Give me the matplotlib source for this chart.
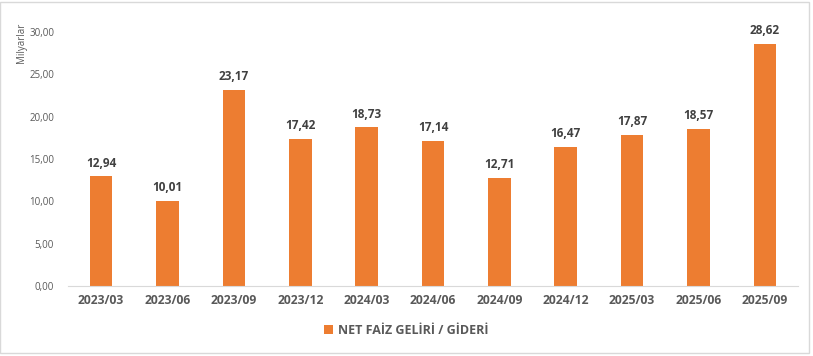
import matplotlib
matplotlib.use("Agg")
import matplotlib.pyplot as plt
from matplotlib.patches import Rectangle

# Datos
donemler = ["2023/03", "2023/06", "2023/09", "2023/12", "2024/03", "2024/06",
            "2024/09", "2024/12", "2025/03", "2025/06", "2025/09"]
net_faiz = [12.94, 10.01, 23.17, 17.42, 18.73, 17.14, 12.71, 16.47, 17.87, 18.57, 28.62]
y_ticks = [0, 5, 10, 15, 20, 25, 30]

turuncu = "#ED7D31"
gri = "#595959"

plt.rcParams['font.family'] = ['Open Sans', 'DejaVu Sans']

fig = plt.figure(figsize=(8.13, 3.56), dpi=100)
ax = fig.add_axes([0.0836, 0.1966, 0.898, 0.7134])

x = list(range(len(donemler)))
ax.bar(x, net_faiz, width=0.34, color=turuncu, label="NET FAİZ GELİRİ / GİDERİ")

for xi, v in zip(x, net_faiz):
    ax.annotate(f"{v:.2f}".replace(".", ","), (xi, v), xytext=(0, 5),
                textcoords="offset points", ha="center", va="bottom",
                fontsize=8.5, fontweight="bold", color="#404040")

ax.set_xlim(-0.5, len(donemler) - 0.5)
ax.set_ylim(0, 30)
ax.set_yticks(y_ticks)
ax.set_yticklabels([f"{t:.2f}".replace(".", ",") for t in y_ticks], fontsize=7, color=gri)
ax.set_xticks(x)
ax.set_xticklabels(donemler, fontsize=8.7, fontweight="bold", color=gri)
ax.tick_params(axis="both", length=0)
ax.tick_params(axis="y", pad=10)
ax.tick_params(axis="x", pad=6)

for lado in ["top", "right", "left"]:
    ax.spines[lado].set_visible(False)
ax.spines["bottom"].set_color("#D9D9D9")

fig.text(0.027, 0.88, "Milyarlar", rotation=90, ha="center", va="center",
         fontsize=7, color=gri)

fig.legend(loc="center", bbox_to_anchor=(0.5, 0.073), frameon=False,
           handlelength=0.7, handleheight=0.7, handletextpad=0.4,
           prop={"size": 9, "weight": "bold"}, labelcolor=gri)

fig.patches.append(Rectangle((0.0006, 0.008), 0.994, 0.985, transform=fig.transFigure,
                             fill=False, edgecolor="#D9D9D9", linewidth=1))

fig.savefig("out.png", dpi=100)
